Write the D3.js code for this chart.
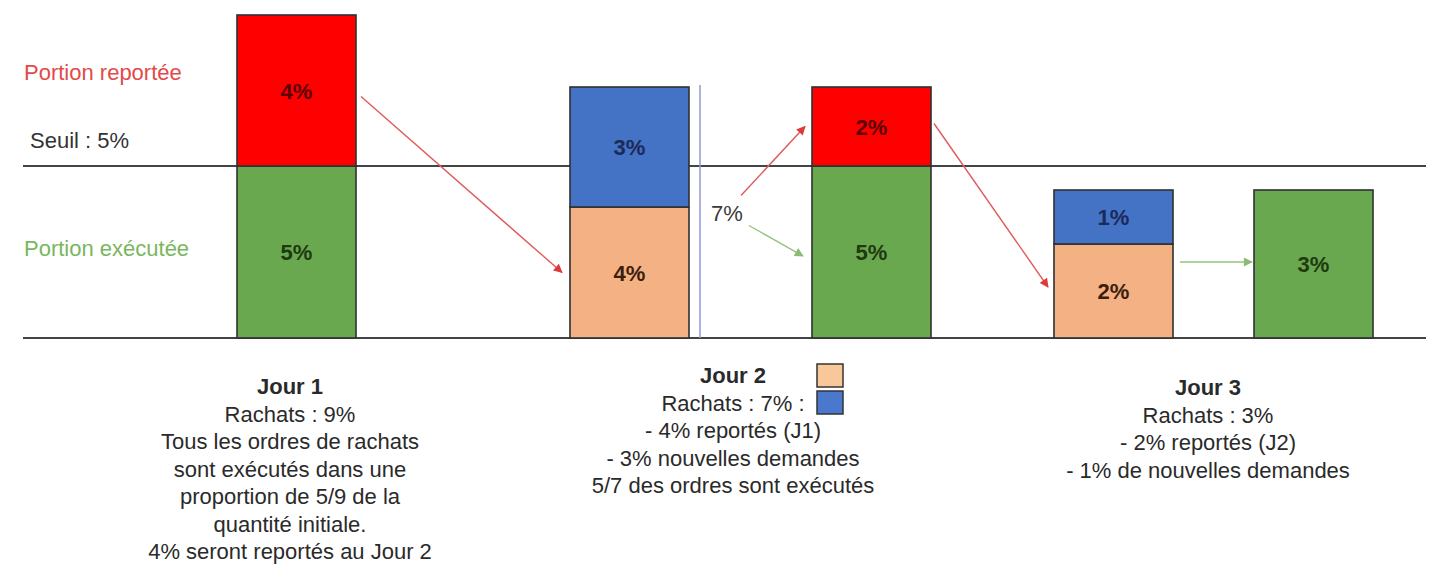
<!DOCTYPE html>
<html>
<head>
<meta charset="utf-8">
<script src="https://cdn.jsdelivr.net/npm/d3@7"></script>
<style>
  body { margin: 0; background: #fff; }
  svg { display: block; font-family: "Liberation Sans", Arial, sans-serif; }
</style>
</head>
<body>
<div id="container"></div>
<script>
// données du schéma
const colonnes = ["J1", "J2 demandes", "J2 traitement", "J3 demandes", "J3 traitement"]
const jourColonne = [1, 2, 2, 3, 3]
const executee = [5, 0, 5, 0, 3]
const reporteeVeille = [0, 4, 0, 2, 0]
const reportee = [4, 0, 2, 0, 0]
const nouvelles = [0, 3, 0, 1, 0]
const seuil = 5
const totalJ2 = 7

const jours = ["Jour 1", "Jour 2", "Jour 3"]
const notes = [
    ["Rachats : 9%", "Tous les ordres de rachats", "sont exécutés dans une", "proportion de 5/9 de la", "quantité initiale.", "4% seront reportés au Jour 2"],
    ["Rachats : 7% :", "- 4% reportés (J1)", "- 3% nouvelles demandes", "5/7 des ordres sont exécutés"],
    ["Rachats : 3%", "- 2% reportés (J2)", "- 1% de nouvelles demandes"]
]

const width = 1432
const height = 565
const bw = 119

const svg = d3.create("svg")
            .attr("width", width)
            .attr("height", height)

const defs = svg.append("defs")
const marker = (id, color) => defs.append("marker")
            .attr("id", id)
            .attr("viewBox", "0 0 10 10")
            .attr("refX", 9).attr("refY", 5)
            .attr("markerWidth", 11).attr("markerHeight", 9)
            .attr("markerUnits", "userSpaceOnUse")
            .attr("orient", "auto")
            .append("path")
            .attr("d", "M0,0 L10,5 L0,10 z")
            .attr("fill", color)
marker("headRed", "#dc3b3b")
marker("headGreen", "#8dbb74")

// échelles : le schéma n'est pas à l'échelle pour le jour 3
const yJ12 = d3.scaleLinear().domain([0, 4, 5, 7, 9]).range([338, 207, 166, 87, 15])
const yJ3 = d3.scaleLinear().domain([0, 2, 3]).range([338, 244, 190])
const yOf = i => jourColonne[i] === 3 ? yJ3 : yJ12

const x = d3.scaleOrdinal().domain(colonnes).range([237, 570, 812, 1054, 1254])

const couleurs = {
    executee: { fill: "#6aa84f", text: "#1e3a10" },
    reporteeVeille: { fill: "#f4b183", text: "#3b1e0c" },
    reportee: { fill: "#ff0000", text: "#5c0000" },
    nouvelles: { fill: "#4472c4", text: "#1b2a5a" }
}

const table = colonnes.map((c, i) => ({
    col: c, i,
    executee: executee[i], reporteeVeille: reporteeVeille[i],
    reportee: reportee[i], nouvelles: nouvelles[i]
}))
const keys = ["executee", "reporteeVeille", "reportee", "nouvelles"]
const series = d3.stack().keys(keys)(table)

const segments = []
series.forEach(s => s.forEach(d => {
    if (d[1] - d[0] > 0) {
        const y = yOf(d.data.i)
        segments.push({ key: s.key, col: d.data.col, i: d.data.i, v: d[1] - d[0], y0: y(d[0]), y1: y(d[1]) })
    }
}))
const seg = (col, key) => segments.find(s => s.col === col && s.key === key)
const mid = s => (s.y0 + s.y1) / 2

// lignes horizontales
svg.selectAll(".hline")
    .data([seuil, 0])
    .enter()
    .append("line")
    .attr("x1", 23).attr("x2", 1426)
    .attr("y1", d => yJ12(d)).attr("y2", d => yJ12(d))
    .style("stroke", "#444")
    .style("stroke-width", 2)

svg.selectAll(".seg")
    .data(segments)
    .enter()
    .append("rect")
    .attr("x", d => x(d.col))
    .attr("y", d => d.y1)
    .attr("width", bw)
    .attr("height", d => d.y0 - d.y1)
    .style("fill", d => couleurs[d.key].fill)
    .style("stroke", "#2e3033")
    .style("stroke-width", 1.6)

svg.selectAll(".seglabel")
    .data(segments)
    .enter()
    .append("text")
    .attr("x", d => x(d.col) + bw / 2)
    .attr("y", d => mid(d) + 8)
    .attr("text-anchor", "middle")
    .attr("font-size", 22)
    .attr("font-weight", "bold")
    .attr("fill", d => couleurs[d.key].text)
    .text(d => d.v + "%")

// accolade verticale du total J2
const bx = x("J2 demandes") + bw + 11
svg.append("line")
    .attr("x1", bx).attr("x2", bx)
    .attr("y1", yJ12(totalJ2) - 2).attr("y2", yJ12(0))
    .style("stroke", "#8e9ad6")
    .style("stroke-width", 1.5)
const midB = (yJ12(totalJ2) + yJ12(0)) / 2
svg.append("text")
    .attr("x", bx + 11)
    .attr("y", midB + 8)
    .attr("font-size", 22)
    .attr("fill", "#3a3a3a")
    .text(totalJ2 + "%")

// flèches
const lab = bx + 43
const fleches = [
    { a: [x("J1") + bw + 5, mid(seg("J1", "reportee")) + 6], b: [x("J2 demandes") - 8, mid(seg("J2 demandes", "reporteeVeille"))], c: "red" },
    { a: [lab - 2, midB - 17], b: [x("J2 traitement") - 7, mid(seg("J2 traitement", "reportee"))], c: "red" },
    { a: [lab + 6, midB + 13], b: [x("J2 traitement") - 9, mid(seg("J2 traitement", "executee")) + 4], c: "green" },
    { a: [x("J2 traitement") + bw + 3, mid(seg("J2 traitement", "reportee")) - 3], b: [x("J3 demandes") - 6, mid(seg("J3 demandes", "reporteeVeille")) - 4], c: "red" },
    { a: [x("J3 demandes") + bw + 7, mid(seg("J3 traitement", "executee")) - 2], b: [x("J3 traitement") - 2, mid(seg("J3 traitement", "executee")) - 2], c: "green" }
]
svg.selectAll(".fleche")
    .data(fleches)
    .enter()
    .append("line")
    .attr("x1", d => d.a[0]).attr("y1", d => d.a[1])
    .attr("x2", d => d.b[0]).attr("y2", d => d.b[1])
    .style("stroke", d => d.c === "red" ? "#e05a5a" : "#93c47d")
    .style("stroke-width", 1.4)
    .attr("marker-end", d => d.c === "red" ? "url(#headRed)" : "url(#headGreen)")

// libellés de gauche
const gauche = [
    { t: "Portion reportée", y: 80, c: "#e24a4a" },
    { t: "Seuil : 5%", y: 148, c: "#333" },
    { t: "Portion exécutée", y: 256, c: "#7ab660" }
]
svg.selectAll(".gauche")
    .data(gauche)
    .enter()
    .append("text")
    .attr("x", d => d.t.startsWith("Seuil") ? 30 : 24)
    .attr("y", d => d.y)
    .attr("font-size", 22)
    .attr("fill", d => d.c)
    .text(d => d.t)

// textes sous les jours
const centres = [290, 733, 1208]
const premieres = [394, 383, 395]
const lh = 27.5
jours.forEach((j, k) => {
    const g = svg.append("text")
        .attr("text-anchor", "middle")
        .attr("font-size", 22)
        .attr("fill", "#2a2a2a")
    g.append("tspan")
        .attr("x", centres[k]).attr("y", premieres[k])
        .attr("font-weight", "bold")
        .text(j)
    notes[k].forEach((n, l) => {
        g.append("tspan")
            .attr("x", centres[k]).attr("y", premieres[k] + (l + 1) * lh)
            .text(n)
    })
})

// petite légende du jour 2
svg.selectAll(".leg")
    .data(["reporteeVeille", "nouvelles"])
    .enter()
    .append("rect")
    .attr("x", centres[1] + 84)
    .attr("y", (d, i) => 364 + i * 27)
    .attr("width", 26)
    .attr("height", 23)
    .style("fill", d => d === "reporteeVeille" ? "#f9c89a" : "#4a78cc")
    .style("stroke", "#333")
    .style("stroke-width", 1.5)

document.querySelector("#container").appendChild(svg.node())
</script>
</body>
</html>
